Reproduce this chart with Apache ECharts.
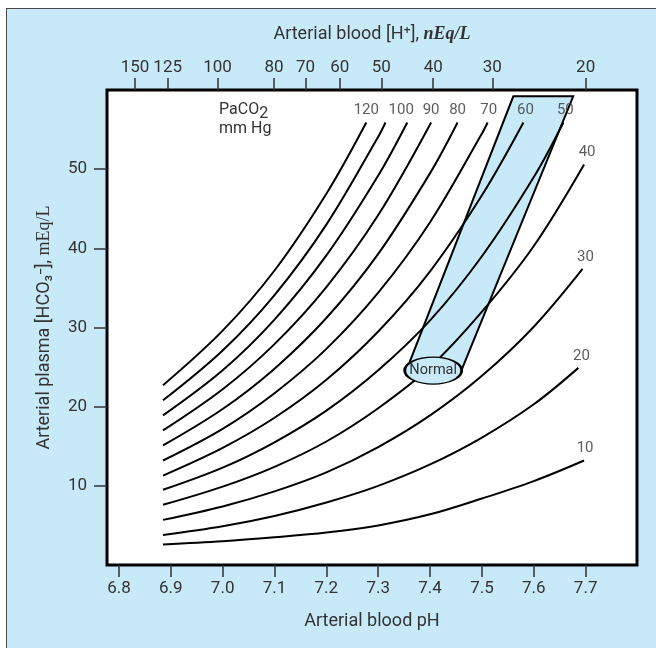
<!DOCTYPE html>
<html><head><meta charset="utf-8">
<script src="https://cdn.jsdelivr.net/npm/echarts@6/dist/echarts.min.js"></script>
<style>
html,body{margin:0;padding:0;background:#fff;}
#bg{position:absolute;left:6px;top:8px;width:660px;height:660px;background:#c7e9f8;border-top:1px solid #4a4a4a;border-left:1px solid #4a4a4a;}
#c{position:absolute;left:0;top:0;width:656px;height:648px;}
</style>
</head><body><div id="bg"></div><div id="c"></div>
<script>
// ---- data ----
const phGrid = [6.885, 7.0, 7.1, 7.2, 7.3, 7.4, 7.5, 7.6];
const paco2Levels = [120, 110, 100, 90, 80, 70, 60, 50, 40, 30, 20, 10];
const curveLabels = ['120', '', '100', '90', '80', '70', '60', '50', '40', '30', '20', '10'];
const hco3_120 = [22.7, 29.6, 37.2, 46.9];
const hco3_110 = [20.8, 27.1, 34.1, 43.0, 54.1];
const hco3_100 = [18.9, 24.6, 31.0, 39.1, 49.2];
const hco3_90  = [17.0, 22.2, 27.9, 35.1, 44.2];
const hco3_80  = [15.1, 19.7, 24.8, 31.2, 39.3, 49.5];
const hco3_70  = [13.2, 17.2, 21.7, 27.3, 34.4, 43.3, 54.5];
const hco3_60  = [11.3, 14.8, 18.6, 23.4, 29.5, 37.1, 46.7];
const hco3_50  = [9.5, 12.3, 15.5, 19.5, 24.6, 30.9, 39.0, 49.0];
const hco3_40  = [7.6, 9.9, 12.4, 15.6, 19.8, 25.0, 32.0, 40.3];
const hco3_30  = [5.7, 7.4, 9.3, 11.7, 14.9, 18.9, 23.9, 30.1];
const hco3_20  = [3.8, 4.9, 6.2, 7.9, 10.0, 12.7, 16.1, 20.3];
const hco3_10  = [2.6, 3.0, 3.5, 4.1, 5.0, 6.4, 8.4, 10.6];
const endPH    = [7.277, 7.314, 7.356, 7.402, 7.453, 7.511, 7.580, 7.657, 7.697, 7.694, 7.686, 7.697];
const endHCO3  = [55.9, 55.9, 55.9, 55.9, 55.9, 55.9, 55.9, 55.9, 50.6, 37.4, 24.9, 13.2];
const bandPH   = [7.5605, 7.676, 7.461, 7.360];
const bandHCO3 = [59.2, 59.2, 24.69, 25.53];
const normalPH = [7.406];
const normalHCO3 = [24.56];
const phTicks = [6.8, 6.9, 7.0, 7.1, 7.2, 7.3, 7.4, 7.5, 7.6, 7.7];
const hTickLabels = ['150', '125', '100', '80', '70', '60', '50', '40', '30', '20'];
const hTickPH = [6.831, 6.894, 6.990, 7.099, 7.160, 7.226, 7.306, 7.406, 7.520, 7.700];
const yTicks = [10, 20, 30, 40, 50];

const hco3Sets = [hco3_120, hco3_110, hco3_100, hco3_90, hco3_80, hco3_70, hco3_60, hco3_50, hco3_40, hco3_30, hco3_20, hco3_10];
const labelOffsetX = [0, 0, -6, 0, 0, 1, 2, 2, 3, 3, 3, 1];

const FONT = "Roboto,'Liberation Sans',sans-serif";
const SERIF = "'Liberation Serif','DejaVu Serif',serif";
const TXT = '#333';
const BLUE = '#c7e9f8';

const chart = echarts.init(document.getElementById('c'), null, {renderer: 'canvas'});

const series = [];
series.push({
  type: 'custom', xAxisIndex: 0, yAxisIndex: 0, clip: false, z: 2, silent: true,
  data: [[bandPH[0], bandHCO3[0]]],
  renderItem: function (params, api) {
    const pts = bandPH.map((p, i) => api.coord([p, bandHCO3[i]]));
    return {
      type: 'group', children: [
        {type: 'polygon', shape: {points: pts}, style: {fill: BLUE, stroke: null}},
        {type: 'polyline', shape: {points: [pts[3], pts[0], pts[1], pts[2]]}, style: {stroke: '#000', lineWidth: 2, fill: null, lineJoin: 'miter'}}
      ]
    };
  }
});
paco2Levels.forEach((lvl, i) => {
  const vals = hco3Sets[i];
  const d = vals.map((v, j) => [phGrid[j], v]);
  d.push([endPH[i], endHCO3[i]]);
  series.push({
    type: 'line', name: 'PaCO2 ' + lvl, data: d, smooth: 0.35, showSymbol: false, z: 3, silent: true,
    lineStyle: {color: '#000', width: 2}
  });
});
series.push({
  type: 'scatter', z: 5, silent: true, symbol: 'circle', symbolSize: 1,
  itemStyle: {color: 'rgba(0,0,0,0)'},
  data: endPH.map((p, i) => ({
    value: [p, endHCO3[i]],
    label: {show: curveLabels[i] !== '', formatter: curveLabels[i], offset: [labelOffsetX[i], 0]}
  })),
  label: {position: 'top', distance: 4, color: TXT, fontSize: 15, fontFamily: FONT}
});
series.push({
  type: 'scatter', z: 4, silent: true, symbol: 'circle', symbolSize: [57, 27],
  itemStyle: {color: BLUE, borderColor: '#000', borderWidth: 2, opacity: 1},
  data: normalPH.map((p, i) => [p, normalHCO3[i]]),
  label: {show: true, position: 'inside', formatter: 'Normal', color: TXT, fontSize: 14.5, fontFamily: FONT}
});

function nearestLabel(v) {
  let best = 0, bd = 1e9;
  hTickPH.forEach((p, i) => { const dd = Math.abs(p - v); if (dd < bd) { bd = dd; best = i; } });
  return hTickLabels[best];
}

const option = {
  animation: false,
  backgroundColor: 'transparent',
  textStyle: {fontFamily: FONT},
  grid: {left: 107, top: 90, width: 530, height: 475, show: true, backgroundColor: '#fff', borderColor: '#000', borderWidth: 3, containLabel: false},
  xAxis: [{
    type: 'value', position: 'bottom', min: 6.777, max: 7.799,
    axisLine: {show: false}, splitLine: {show: false},
    axisTick: {show: true, length: 12, customValues: phTicks, lineStyle: {color: TXT, width: 1.5}},
    axisLabel: {customValues: phTicks, formatter: v => v.toFixed(1), margin: 15, color: TXT, fontSize: 17, fontFamily: FONT},
    name: 'Arterial blood pH', nameLocation: 'middle', nameGap: 47,
    nameTextStyle: {color: TXT, fontSize: 18, fontFamily: FONT}
  }, {
    type: 'value', position: 'top', min: 6.777, max: 7.799,
    axisLine: {show: false}, splitLine: {show: false},
    axisTick: {show: true, length: 12, customValues: hTickPH, lineStyle: {color: TXT, width: 1.5}},
    axisLabel: {customValues: hTickPH, formatter: v => nearestLabel(v), margin: 14, color: TXT, fontSize: 17, fontFamily: FONT},
    name: 'Arterial blood [H\u207A], {i|nEq/L}', nameLocation: 'middle', nameGap: 47,
    nameTextStyle: {color: TXT, fontSize: 18, fontFamily: FONT,
      rich: {i: {fontFamily: SERIF, fontStyle: 'italic', fontWeight: 'bold', fontSize: 18, color: TXT}}}
  }],
  yAxis: [{
    type: 'value', min: 0, max: 60, interval: 10,
    axisLine: {show: false}, splitLine: {show: false},
    axisTick: {show: true, length: 13, customValues: yTicks, lineStyle: {color: TXT, width: 1.5}},
    axisLabel: {customValues: yTicks, margin: 20, color: TXT, fontSize: 17, fontFamily: FONT},
    name: 'Arterial plasma [HCO\u2083\u207B], {s|mEq/L}', nameLocation: 'middle', nameGap: 54, nameRotate: 90,
    nameTextStyle: {color: TXT, fontSize: 18, fontFamily: FONT,
      rich: {s: {fontFamily: SERIF, fontSize: 18, color: TXT}}}
  }],
  graphic: [{
    type: 'text', left: 219, top: 100, z: 10, silent: true,
    style: {
      text: 'PaCO{s|2}\nmm Hg', align: 'center', fill: TXT, fontSize: 16, fontFamily: FONT, lineHeight: 19,
      rich: {s: {fontSize: 16, fontFamily: FONT, fill: TXT, padding: [9, 0, 0, 0]}}
    }
  }],
  series: series
};
chart.setOption(option);
</script>
</body></html>
